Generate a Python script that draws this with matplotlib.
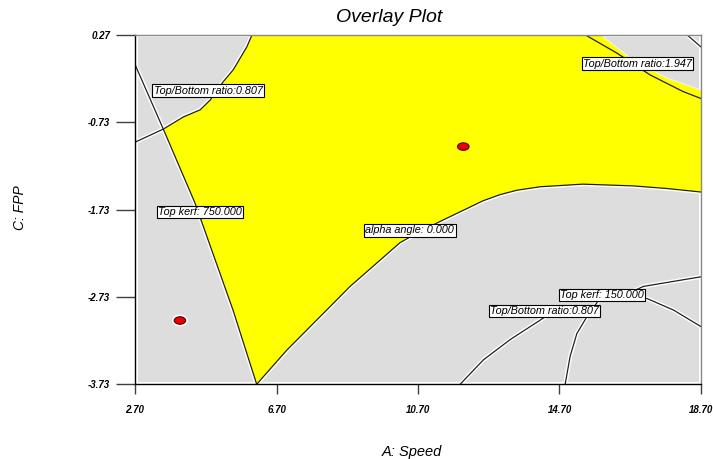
import matplotlib
matplotlib.use("Agg")
import matplotlib.pyplot as plt
from matplotlib.patches import Polygon, Rectangle, Ellipse

# ---- axis ranges and ticks ----
x_ticks = [2.70, 6.70, 10.70, 14.70, 18.70]
y_ticks = [-3.73, -2.73, -1.73, -0.73, 0.27]
x_tick_labels = ["2.70", "6.70", "10.70", "14.70", "18.70"]
y_tick_labels = ["-3.73", "-2.73", "-1.73", "-0.73", "0.27"]

# ---- constraint contours (A: Speed, C: FPP) ----
tb_0807_upper_x = [2.70, 3.50, 4.07, 4.54, 4.82, 5.19, 5.48, 5.86, 6.01]
tb_0807_upper_y = [-0.96, -0.81, -0.67, -0.59, -0.48, -0.27, -0.13, 0.13, 0.27]

kerf_750_x = [2.70, 3.50, 4.40, 4.54, 5.47, 6.14]
kerf_750_y = [-0.07, -0.81, -1.66, -1.82, -2.88, -3.73]

alpha_0_x = [6.14, 6.99, 8.12, 8.78, 9.43, 10.19, 10.76, 11.41, 12.08, 12.54,
             13.02, 13.49, 14.15, 15.36, 16.78, 17.74, 18.70]
alpha_0_y = [-3.73, -3.34, -2.88, -2.61, -2.38, -2.11, -1.98, -1.85, -1.72, -1.63,
             -1.56, -1.51, -1.47, -1.44, -1.46, -1.49, -1.53]

tb_1947_x = [15.42, 16.32, 17.26, 18.19, 18.70]
tb_1947_y = [0.27, 0.06, -0.19, -0.38, -0.46]

corner_x = [18.30, 18.70]
corner_y = [0.27, 0.13]

# upper-right edge of the feasible window (no contour line drawn)
window_edge_x = [18.70, 17.73, 16.78, 15.84]
window_edge_y = [-0.37, -0.23, -0.03, 0.27]

kerf_150_x = [18.70, 17.07, 16.70, 16.84, 17.18, 17.92, 18.70]
kerf_150_y = [-2.50, -2.61, -2.68, -2.72, -2.75, -2.88, -3.07]

tb_0807_lower_a_x = [14.29, 13.30, 12.55, 11.89]
tb_0807_lower_a_y = [-2.96, -3.22, -3.45, -3.73]

tb_0807_lower_b_x = [15.82, 15.47, 15.19, 15.00, 14.86]
tb_0807_lower_b_y = [-2.76, -2.96, -3.15, -3.41, -3.73]

# ---- contour labels ----
label_texts = ["Top/Bottom ratio:0.807", "Top kerf: 750.000", "alpha angle: 0.000",
               "Top/Bottom ratio:1.947", "Top kerf: 150.000", "Top/Bottom ratio:0.807"]
label_x = [4.77, 4.54, 10.47, 16.90, 15.90, 14.28]
label_y = [-0.37, -1.76, -1.97, -0.06, -2.71, -2.89]

# ---- design points ----
point_x = [11.98, 3.97]
point_y = [-1.01, -3.00]

W, H = 713, 459
fig = plt.figure(figsize=(W / 100, H / 100), dpi=100)
ax = fig.add_axes([135 / W, 1 - 384.3 / H, 566 / W, 349.6 / H])
xmin, xmax = x_ticks[0], x_ticks[-1]
ymin, ymax = y_ticks[0], y_ticks[-1]
ax.set_xlim(xmin, xmax)
ax.set_ylim(ymin, ymax)

# grey infeasible background, slightly inset from the frame
px = (xmax - xmin) / 566
py = (ymax - ymin) / 349.6
ax.add_patch(Rectangle((xmin + 2.5 * px, ymin + 2.5 * py),
                       (xmax - xmin) - 5 * px, (ymax - ymin) - 5 * py,
                       facecolor="#dddddd", edgecolor="none", zorder=1))

# soft white halo along contour lines on the grey side
halo = dict(color="white", lw=3.0, solid_capstyle="round", zorder=2)
for xs, ys in [(tb_0807_upper_x, tb_0807_upper_y), (kerf_750_x, kerf_750_y),
               (alpha_0_x, alpha_0_y), (corner_x, corner_y),
               (kerf_150_x, kerf_150_y),
               (tb_0807_lower_a_x, tb_0807_lower_a_y),
               (tb_0807_lower_b_x, tb_0807_lower_b_y)]:
    ax.plot(xs, ys, **halo)
ax.plot(window_edge_x, window_edge_y, color="#f4f4f4", lw=1.5, zorder=2)

for dx, dy in zip(point_x, point_y):
    ax.add_patch(Ellipse((dx, dy), 16 * px, 12 * py, facecolor="white",
                         edgecolor="none", zorder=2))

# yellow feasible region
i_cross = 1
region_x = (tb_0807_upper_x[::-1][:-i_cross] + kerf_750_x[i_cross:] + alpha_0_x[1:]
            + window_edge_x)
region_y = (tb_0807_upper_y[::-1][:-i_cross] + kerf_750_y[i_cross:] + alpha_0_y[1:]
            + window_edge_y)
ax.add_patch(Polygon(list(zip(region_x, region_y)), closed=True,
                     facecolor="#ffff00", edgecolor="none", zorder=3))

line = dict(color="#202020", lw=0.9, zorder=4, solid_joinstyle="round")
ax.plot(tb_0807_upper_x, tb_0807_upper_y, **line)
ax.plot(kerf_750_x, kerf_750_y, **line)
ax.plot(alpha_0_x, alpha_0_y, **line)
ax.plot(tb_1947_x, tb_1947_y, **line)
ax.plot(corner_x, corner_y, **line)
ax.plot(kerf_150_x, kerf_150_y, **line)
ax.plot(tb_0807_lower_a_x, tb_0807_lower_a_y, **line)
ax.plot(tb_0807_lower_b_x, tb_0807_lower_b_y, **line)

for t, lx, ly in zip(label_texts, label_x, label_y):
    ax.text(lx, ly, t, ha="center", va="center", fontsize=7.8, style="italic",
            family="Liberation Sans", zorder=6,
            bbox=dict(boxstyle="square,pad=0.12", facecolor="white",
                      edgecolor="black", lw=0.8))

for dx, dy in zip(point_x, point_y):
    ax.add_patch(Ellipse((dx, dy), 11.5 * px, 7.5 * py, facecolor="#ee0000",
                         edgecolor="#500000", lw=0.8, zorder=6))

# frame
for side in ["top", "right"]:
    ax.spines[side].set_color("#888888")
    ax.spines[side].set_linewidth(1.0)
for side in ["left", "bottom"]:
    ax.spines[side].set_color("black")
    ax.spines[side].set_linewidth(1.0)
for s in ax.spines.values():
    s.set_zorder(7)

ax.set_xticks(x_ticks)
ax.set_xticklabels(x_tick_labels)
ax.set_yticks(y_ticks)
ax.set_yticklabels(y_tick_labels)
ax.tick_params(axis="x", direction="out", length=7, width=1, color="#404040", pad=8)
ax.tick_params(axis="y", direction="out", length=14, width=1, color="#404040", pad=4)
for lab in ax.get_xticklabels() + ax.get_yticklabels():
    lab.set_fontfamily("Liberation Sans")
    lab.set_fontsize(7)
    lab.set_fontstyle("italic")
    lab.set_fontweight("bold")

fig.text(389 / W, 1 - 18 / H, "Overlay Plot", ha="center", va="center",
         fontsize=14, style="italic", family="Liberation Sans")
fig.text(412 / W, 1 - 452 / H, "A: Speed", ha="center", va="center",
         fontsize=10.5, style="italic", family="Liberation Sans")
fig.text(20 / W, 1 - 208 / H, "C: FPP", ha="center", va="center", rotation=90,
         fontsize=10, style="italic", family="Liberation Sans")

fig.savefig("out.png", dpi=100)
